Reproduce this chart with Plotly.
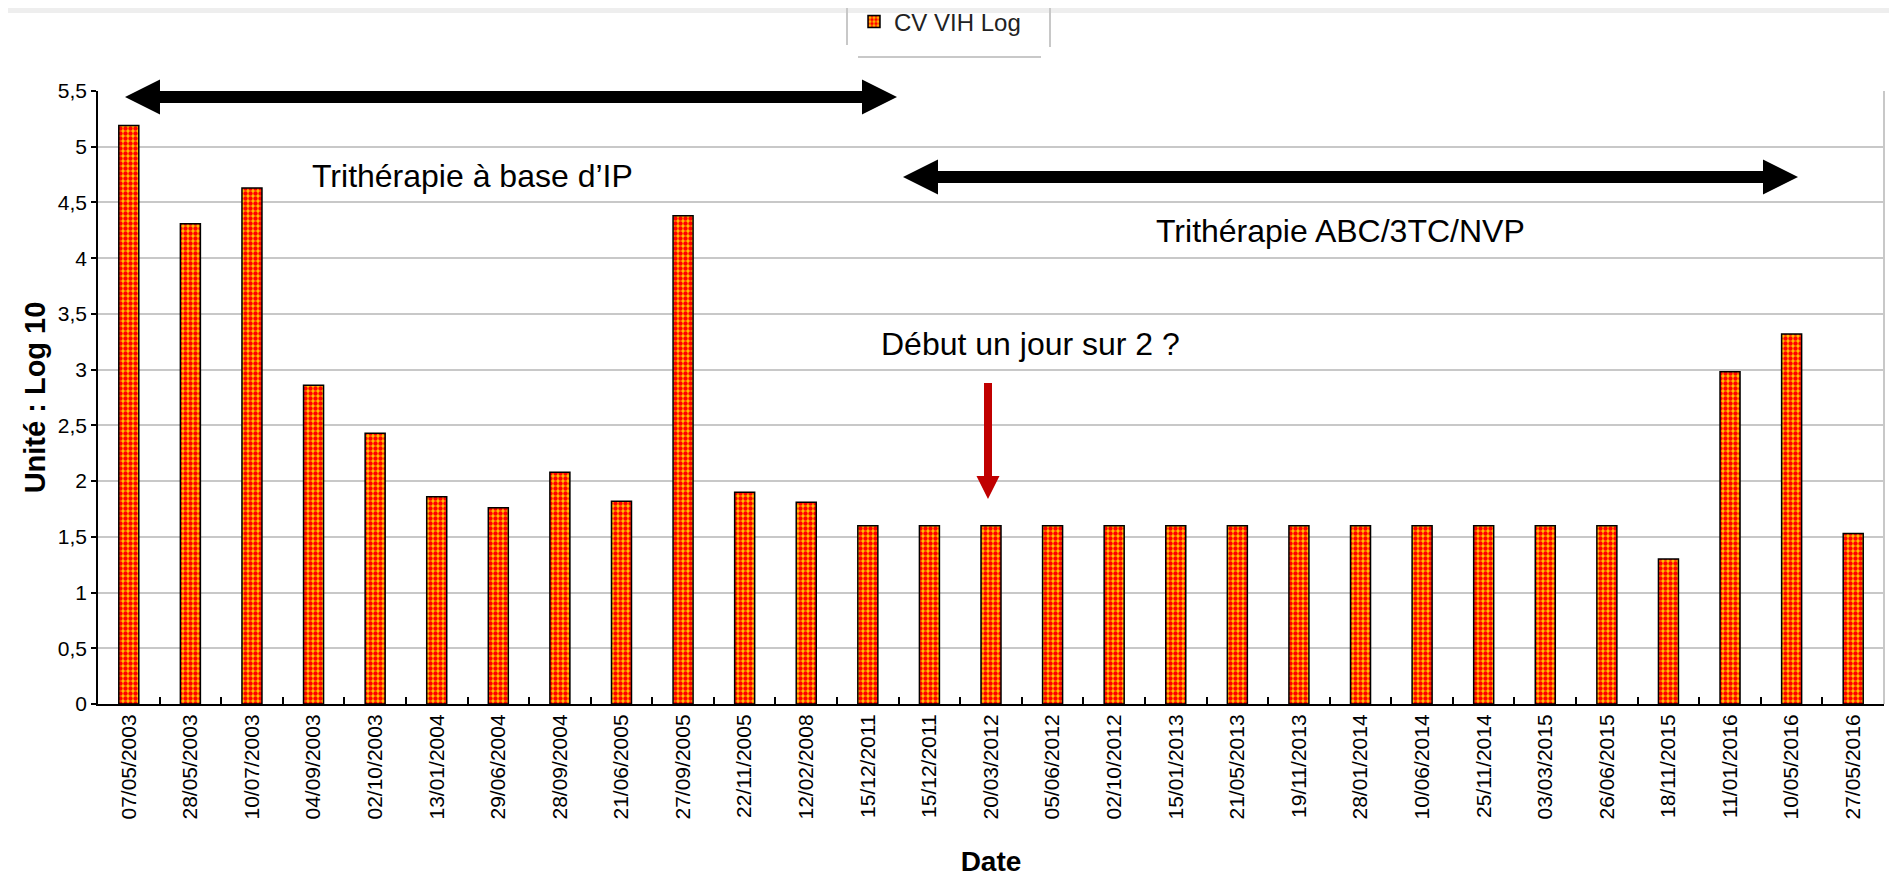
import plotly.graph_objects as go

# ---- data ----
dates = ["07/05/2003", "28/05/2003", "10/07/2003", "04/09/2003", "02/10/2003",
         "13/01/2004", "29/06/2004", "28/09/2004", "21/06/2005", "27/09/2005",
         "22/11/2005", "12/02/2008", "15/12/2011", "15/12/2011", "20/03/2012",
         "05/06/2012", "02/10/2012", "15/01/2013", "21/05/2013", "19/11/2013",
         "28/01/2014", "10/06/2014", "25/11/2014", "03/03/2015", "26/06/2015",
         "18/11/2015", "11/01/2016", "10/05/2016", "27/05/2016"]
cv_log = [5.19, 4.31, 4.63, 2.86, 2.43, 1.86, 1.76, 2.08, 1.82, 4.38,
          1.90, 1.81, 1.60, 1.60, 1.60, 1.60, 1.60, 1.60, 1.60, 1.60,
          1.60, 1.60, 1.60, 1.60, 1.60, 1.30, 2.98, 3.32, 1.53]
positions = list(range(len(dates)))
y_ticks = [i * 0.5 for i in range(12)]

# page geometry (screenshot pixels); the page body adds an 8px margin
OFF = 8
WF, HF = 1897 - OFF, 877 - OFF
L, R, T, B = 98, 1884, 91, 704


def px_x(px):
    return (px - L) / (R - L)


def px_y(py):
    return (B - py) / (B - T)


def poly(points):
    pts = [f"{px_x(x):.5f},{px_y(y):.5f}" for x, y in points]
    return "M" + " L".join(pts) + " Z"


def double_arrow(x0, x1, y, s=12, hl=35, hh=35):
    return poly([(x0, y), (x0 + hl, y - hh / 2), (x0 + hl, y - s / 2),
                 (x1 - hl, y - s / 2), (x1 - hl, y - hh / 2), (x1, y),
                 (x1 - hl, y + hh / 2), (x1 - hl, y + s / 2),
                 (x0 + hl, y + s / 2), (x0 + hl, y + hh / 2)])


def down_arrow(x, y0, y1, s=8, hl=23, hw=23):
    return poly([(x - s / 2, y0), (x + s / 2, y0), (x + s / 2, y1 - hl),
                 (x + hw / 2, y1 - hl), (x, y1), (x - hw / 2, y1 - hl),
                 (x - s / 2, y1 - hl)])


FONT = "Arial, Liberation Sans, sans-serif"

fig = go.Figure()
fig.add_trace(go.Bar(
    x=positions, y=cv_log, name="CV VIH Log",
    marker=dict(color="#FF0000",
                line=dict(color="black", width=1.5),
                pattern=dict(shape=".", fgcolor="#FF0000", bgcolor="#FFC400",
                             size=5, solidity=0.6, fillmode="replace")),
    showlegend=True,
))

shapes = []
gray = "#c8c8c8"
# top band
shapes.append(dict(type="rect", xref="paper", yref="paper",
                   x0=px_x(0), x1=px_x(1897), y0=px_y(0), y1=px_y(13),
                   fillcolor="#eeeeee", line=dict(width=0), layer="below"))
# legend frame pieces
shapes.append(dict(type="line", xref="paper", yref="paper",
                   x0=px_x(847), x1=px_x(847), y0=px_y(0), y1=px_y(45),
                   line=dict(color=gray, width=2)))
shapes.append(dict(type="line", xref="paper", yref="paper",
                   x0=px_x(1050), x1=px_x(1050), y0=px_y(0), y1=px_y(47),
                   line=dict(color=gray, width=2)))
shapes.append(dict(type="line", xref="paper", yref="paper",
                   x0=px_x(858), x1=px_x(1041), y0=px_y(57), y1=px_y(57),
                   line=dict(color=gray, width=2)))
# right border of plot
shapes.append(dict(type="line", xref="paper", yref="paper",
                   x0=1, x1=1, y0=0, y1=1, line=dict(color=gray, width=2)))
# arrows
shapes.append(dict(type="path", xref="paper", yref="paper",
                   path=double_arrow(125, 897, 97),
                   fillcolor="black", line=dict(width=0)))
shapes.append(dict(type="path", xref="paper", yref="paper",
                   path=double_arrow(903, 1798, 177),
                   fillcolor="black", line=dict(width=0)))
shapes.append(dict(type="path", xref="paper", yref="paper",
                   path=down_arrow(988, 383, 499),
                   fillcolor="#C00000", line=dict(width=0)))

annots = [
    dict(text="Trithérapie à base d’IP", x=px_x(472), y=px_y(176)),
    dict(text="Trithérapie ABC/3TC/NVP", x=px_x(1340), y=px_y(231)),
    dict(text="Début un jour sur 2 ?", x=px_x(1030), y=px_y(344)),
]
annotations = [dict(xref="paper", yref="paper", xanchor="center", yanchor="middle",
                    showarrow=False, font=dict(family=FONT, size=32, color="black"),
                    **a) for a in annots]

fig.update_layout(
    template="none",
    width=WF, height=HF,
    margin=dict(l=L - OFF, r=WF - (R - OFF), t=T - OFF, b=HF - (B - OFF),
                autoexpand=False),
    paper_bgcolor="white", plot_bgcolor="white",
    font=dict(family=FONT, color="black"),
    separators=", ",
    bargap=0.675,
    shapes=shapes,
    annotations=annotations,
    showlegend=True,
    legend=dict(xref="container", yref="container",
                x=(854 - OFF) / WF, y=1 - (22 - OFF) / HF,
                xanchor="left", yanchor="middle", orientation="h",
                font=dict(family=FONT, size=24, color="#222222"),
                bgcolor="rgba(0,0,0,0)", borderwidth=0),
    xaxis=dict(type="category", tickmode="array", tickvals=positions, ticktext=dates,
               tickangle=-90, tickson="boundaries", ticks="inside", ticklen=7,
               tickcolor="black", tickwidth=1.5,
               showline=True, linecolor="black", linewidth=2,
               showgrid=False, zeroline=False, automargin=False,
               range=[-0.5, len(dates) - 0.5],
               tickfont=dict(family=FONT, size=21, color="black"),
               title=dict(text="<b>Date</b>", standoff=34,
                          font=dict(family=FONT, size=28, color="black"))),
    yaxis=dict(range=[0, 5.5], tickmode="array", tickvals=y_ticks,
               ticks="outside", ticklen=5, tickcolor="black", tickwidth=1.5,
               showline=True, linecolor="black", linewidth=1.5,
               showgrid=True, gridcolor=gray, gridwidth=1.5,
               zeroline=False, automargin=False,
               tickfont=dict(family=FONT, size=21, color="black"),
               title=dict(text="<b>Unité : Log 10</b>", standoff=4,
                          font=dict(family=FONT, size=29, color="black"))),
)

fig.write_html("out.html")
